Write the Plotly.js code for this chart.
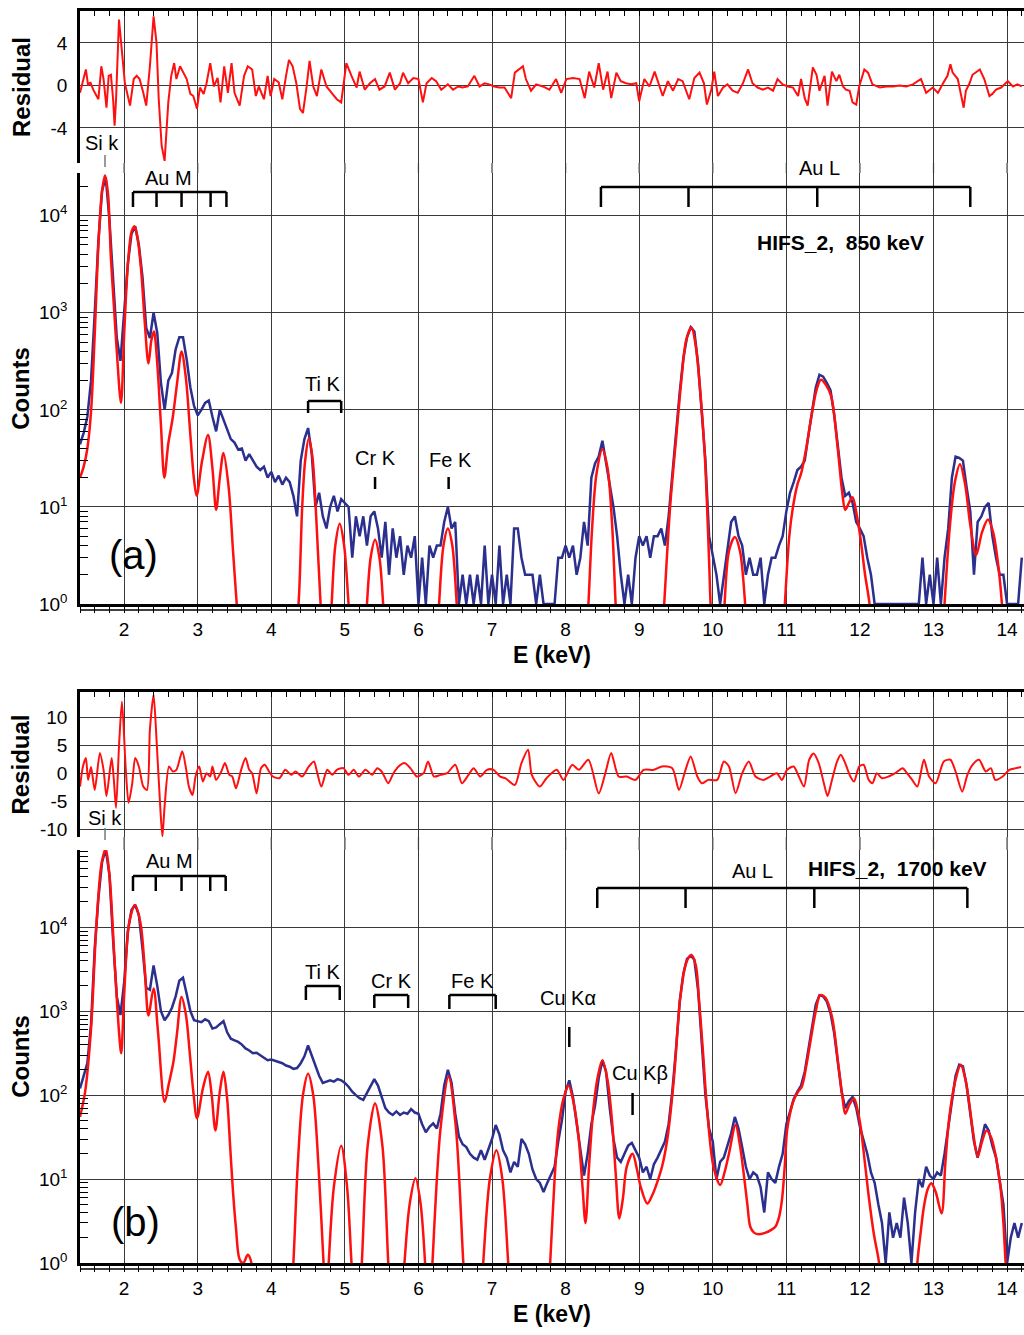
<!DOCTYPE html>
<html><head><meta charset="utf-8">
<script src="https://cdn.plot.ly/plotly-3.0.1.min.js"></script>
<style>html,body{margin:0;padding:0;background:#fff}#chart{width:1024px;height:1335px}</style>
</head><body><div id="chart"></div>
<script>
// ---------- DATA ----------
// energy grid of the measured spectra (keV)
const energyGrid = [
1.4,1.45,1.5,1.55,1.6,1.65,1.7,1.75,1.8,1.85,1.9,1.95,2,2.05,2.1,2.15,2.2,2.25,2.3,2.35,
2.4,2.45,2.5,2.55,2.6,2.65,2.7,2.75,2.8,2.85,2.9,2.95,3,3.05,3.1,3.15,3.2,3.25,3.3,3.35,
3.4,3.45,3.5,3.55,3.6,3.65,3.7,3.75,3.8,3.85,3.9,3.95,4,4.05,4.1,4.15,4.2,4.25,4.3,4.35,
4.4,4.45,4.5,4.55,4.6,4.65,4.7,4.75,4.8,4.85,4.9,4.95,5,5.05,5.1,5.15,5.2,5.25,5.3,5.35,
5.4,5.45,5.5,5.55,5.6,5.65,5.7,5.75,5.8,5.85,5.9,5.95,6,6.05,6.1,6.15,6.2,6.25,6.3,6.35,
6.4,6.45,6.5,6.55,6.6,6.65,6.7,6.75,6.8,6.85,6.9,6.95,7,7.05,7.1,7.15,7.2,7.25,7.3,7.35,
7.4,7.45,7.5,7.55,7.6,7.65,7.7,7.75,7.8,7.85,7.9,7.95,8,8.05,8.1,8.15,8.2,8.25,8.3,8.35,
8.4,8.45,8.5,8.55,8.6,8.65,8.7,8.75,8.8,8.85,8.9,8.95,9,9.05,9.1,9.15,9.2,9.25,9.3,9.35,
9.4,9.45,9.5,9.55,9.6,9.65,9.7,9.75,9.8,9.85,9.9,9.95,10,10.05,10.1,10.15,10.2,10.25,10.3,10.35,
10.4,10.45,10.5,10.55,10.6,10.65,10.7,10.75,10.8,10.85,10.9,10.95,11,11.05,11.1,11.15,11.2,11.25,11.3,11.35,
11.4,11.45,11.5,11.55,11.6,11.65,11.7,11.75,11.8,11.85,11.9,11.95,12,12.05,12.1,12.15,12.2,12.25,12.3,12.35,
12.4,12.45,12.5,12.55,12.6,12.65,12.7,12.75,12.8,12.85,12.9,12.95,13,13.05,13.1,13.15,13.2,13.25,13.3,13.35,
13.4,13.45,13.5,13.55,13.6,13.65,13.7,13.75,13.8,13.85,13.9,13.95,14,14.05,14.1,14.15,14.2];

// measured counts, panel (a) 850 keV
const countsA = [
44,58,85,200,1000,5500,18000,25000,9000,2000,550,320,1000,3200,6500,7800,5000,2300,700,550,
1000,620,190,100,200,240,420,560,560,330,170,110,88,100,118,125,85,60,100,80,
65,50,46,39,40,30,35,30,26,24,26,20,23,18,21,17,20,18,13,8,
30,50,65,35,10,14,8,6,10,13,9,12,11,10,3,8,5,8,4,8,
9,6,3,7,2,6,3,5,2,4,3,5,1,3,1,4,3,4,4,7,
10,6,7,1,2,1,2,1,2,1,4,1,2,1,4,1,2,1,6,6,
3,2,2,2,1,2,1,1,1,1,3,3,4,3,4,2,3,7,4,20,
28,33,48,28,16,10,5,2,1,2,1,3,5,4,5,3,5,5,6,4,
8,22,55,150,340,560,710,640,300,100,30,5,3,2,1,2,4,7,8,5,
4,2,3,2,2,3,1,2,3,3,4,5,9,14,18,24,26,30,55,100,
170,230,220,190,160,90,45,20,13,14,11,7,6,5,3,2,1,1,1,1,
1,1,1,1,1,1,1,1,1,3,1,2,1,3,1,3,6,20,33,32,
30,16,9,2,7,8,10,11,5,3,2,2,1,1,1,1,3];

// measured counts, panel (b) 1700 keV
const countsB = [
120,170,240,700,5600,22000,60000,85000,42000,7000,1500,900,2200,9000,16000,18500,14000,5500,1900,1800,
3500,2000,1000,780,900,1100,1500,2300,2500,1600,1000,780,760,740,800,760,620,640,700,760,
560,470,450,430,400,360,340,315,320,300,280,260,265,255,245,240,225,218,205,210,
240,290,390,300,220,170,140,145,150,145,155,150,140,126,110,100,92,88,105,130,
155,130,95,70,62,58,64,58,62,60,68,62,60,45,36,42,46,40,60,130,
200,140,60,32,26,24,20,18,17,22,17,23,30,44,34,22,18,12,16,14,
30,26,20,13,10,9,7,9,11,14,28,50,110,150,95,46,20,11,20,45,
75,160,260,190,70,30,18,16,20,25,27,22,18,12,14,10,15,18,22,28,
45,110,350,1300,2800,4200,4600,4100,1800,450,100,40,28,10,16,18,26,35,55,40,
24,14,10,12,11,8,4,12,10,9,14,20,45,65,90,110,130,190,350,700,
1200,1550,1500,1300,950,550,240,110,70,85,95,70,42,28,20,12,9,5,3,1,
4,2,3,2,6,3,1,4,10,8,14,11,10,12,11,20,40,90,170,230,
220,130,60,28,18,30,45,38,25,18,10,5,1,2,3,2,3];

// fitted spectrum, panel (a)
const fitE_A = [1.40,1.45,1.50,1.55,1.60,1.65,1.70,1.74,1.78,1.82,1.86,1.90,1.957,2.00,2.05,2.10,2.14,2.18,2.23,2.28,
2.33,2.37,2.405,2.45,2.50,2.546,2.60,2.66,2.72,2.78,2.84,2.90,2.95,2.985,3.06,3.14,3.20,3.25,3.30,3.35,
3.42,3.48,3.53,3.58,
4.30,4.37,4.42,4.46,4.51,4.56,4.61,4.67,4.72,
4.78,4.82,4.87,4.93,4.99,5.05,5.10,
5.26,5.30,5.35,5.41,5.47,5.52,5.56,
6.24,6.28,6.34,6.40,6.46,6.52,6.56,
8.27,8.31,8.36,8.42,8.50,8.57,8.63,8.68,8.72,
9.30,9.34,9.42,9.50,9.57,9.64,9.71,9.77,9.82,9.89,9.95,9.97,10.01,
10.12,10.16,10.22,10.30,10.37,10.44,10.48,
10.94,10.98,11.04,11.09,11.15,11.20,11.27,11.34,11.41,11.47,11.54,11.61,11.70,11.76,11.80,11.85,11.90,11.96,12.01,12.07,12.13,12.17,
13.11,13.15,13.22,13.29,13.36,13.43,13.50,13.58,13.66,13.74,13.81,13.88,13.93,13.97,14.2];
const fitC_A = [20,26,40,96,600,5000,18000,26000,17000,3700,1200,400,118,600,3100,6800,7800,6000,2800,800,
300,520,640,300,70,20,45,83,190,400,210,55,19,13,30,55,25,9.3,20,36,
16,3.5,1,0.3,
0.3,1,10,30,51,32,8,1,0.3,
0.3,1,4,6.7,4,1,0.3,
0.3,1,3,4.6,3,1,0.3,
0.3,1,4,6,4,1,0.3,
0.3,1,6,22,39,25,7,1,0.3,
0.3,1,10,49,190,530,710,450,190,36,2.8,1,0.3,
0.3,1,3.5,4.9,3.5,1,0.3,
0.3,1,5,10,17,22,40,85,160,204,180,137,39,14,9.3,11,12.6,8,4.6,2,1,0.3,
0.3,1,6,18,27.6,17,6.5,3.2,5.5,7.4,5.5,2.5,1,0.3,0.3];

// fitted spectrum, panel (b)
const fitE_B = [1.40,1.47,1.55,1.62,1.69,1.746,1.80,1.87,1.93,1.96,2.00,2.07,2.145,2.22,2.28,2.33,2.40,2.46,2.55,2.61,
2.67,2.72,2.78,2.84,2.89,2.94,2.99,3.07,3.14,3.19,3.24,3.30,3.35,3.40,3.44,3.48,3.52,3.57,3.62,3.68,3.73,3.77,
4.26,4.30,4.36,4.43,4.50,4.57,4.64,4.71,4.745,
4.78,4.85,4.95,5.03,5.09,5.13,
5.19,5.23,5.31,5.41,5.51,5.59,5.63,
5.77,5.81,5.88,5.96,6.03,6.09,6.12,
6.16,6.19,6.30,6.41,6.51,6.61,6.65,
6.84,6.88,6.97,7.06,7.14,7.22,7.26,
7.75,7.79,7.85,7.90,7.97,8.04,8.11,8.18,8.23,8.27,8.32,8.38,8.44,8.50,8.57,8.63,8.68,8.73,8.78,8.83,
8.91,8.97,9.02,9.11,9.18,9.24,9.31,9.38,9.47,9.56,9.64,9.71,9.77,9.81,9.87,9.92,10.01,10.10,10.16,10.22,
10.31,10.37,10.42,10.47,10.51,10.56,10.62,10.72,10.80,10.85,10.90,10.94,10.98,11.01,11.05,11.10,11.16,11.21,11.27,11.33,
11.40,11.46,11.53,11.62,11.71,11.76,11.80,11.86,11.92,11.97,12.01,12.07,12.12,12.19,12.26,12.30,
12.74,12.78,12.83,12.87,12.92,12.97,13.03,13.11,13.16,13.21,13.29,13.37,13.43,13.48,13.54,13.60,13.66,13.72,13.78,13.84,
13.91,13.95,13.98,14.02,14.2];
const fitC_B = [55,110,620,9600,55000,85000,42000,3900,570,315,1550,11500,18300,11500,3200,890,1860,570,83,140,
250,560,1480,900,330,110,53,120,190,100,38,110,190,90,25,7,2.6,1.1,1.0,1.25,1.0,0.3,
0.3,1,15,100,180,100,15,1,0.3,
1,8,25,8,1,0.3,
0.3,1,25,80,25,1,0.3,
0.3,1,5,10.2,5,1,0.3,
0.3,1,40,165,40,1,0.3,
0.3,1,10,22,10,1,0.3,
0.3,1,10,38,90,130,80,29,8,3,15,73,170,260,150,50,12,3.4,6,14,
20,13,8.1,5.1,6.5,8.9,14,29,150,1480,3800,4660,3500,1480,300,73,14,8.5,12,20,
44,25,11.7,5,2.7,2.3,2.2,2.3,2.5,2.7,3.5,5.6,15,38,60,87,110,126,220,450,
1000,1550,1450,860,218,100,60,78,91,65,42,15,6.2,2.2,1,0.3,
0.3,1,2.5,4.7,7.5,8.9,7,3.9,15,50,140,230,160,87,35,18.5,28,38,32,20,
8,3,1,0.3,0.3];

// residuals, panel (a)
const resE_A = [1.40,1.44,1.48,1.51,1.54,1.58,1.65,1.69,1.72,1.76,1.79,1.82,1.85,1.87,1.89,1.93,1.96,2.01,2.08,2.13,
2.17,2.21,2.26,2.30,2.35,2.40,2.44,2.47,2.51,2.55,2.60,2.64,2.68,2.71,2.76,2.80,2.85,2.90,2.94,2.99,
3.03,3.08,3.12,3.17,3.22,3.27,3.31,3.36,3.41,3.46,3.50,3.57,3.63,3.68,3.74,3.79,3.83,3.90,3.95,3.99,
4.04,4.10,4.15,4.20,4.24,4.29,4.34,4.39,4.43,4.48,4.52,4.57,4.62,4.68,4.75,4.82,4.89,4.95,5.02,5.09,
5.16,5.20,5.27,5.34,5.41,5.47,5.54,5.61,5.68,5.75,5.79,5.86,5.93,6.00,6.06,6.11,6.18,6.24,6.31,6.40,
6.47,6.54,6.60,6.67,6.76,6.83,6.90,6.96,7.03,7.10,7.17,7.26,7.31,7.42,7.46,7.53,7.60,7.69,7.78,7.87,
7.94,8.01,8.10,8.19,8.26,8.32,8.39,8.45,8.51,8.57,8.62,8.69,8.75,8.82,8.89,8.96,9.00,9.07,9.14,9.21,
9.28,9.32,9.39,9.46,9.53,9.59,9.68,9.75,9.82,9.88,9.92,9.98,10.02,10.07,10.14,10.20,10.27,10.34,10.41,10.48,
10.54,10.61,10.68,10.75,10.82,10.88,10.95,11.02,11.09,11.16,11.20,11.25,11.29,11.36,11.41,11.45,11.52,11.56,11.62,11.68,
11.72,11.77,11.81,11.86,11.90,11.95,11.99,12.06,12.11,12.17,12.27,12.36,12.45,12.54,12.63,12.72,12.83,12.90,12.99,13.06,
13.13,13.19,13.23,13.26,13.33,13.37,13.41,13.44,13.49,13.53,13.59,13.63,13.69,13.76,13.80,13.85,13.92,13.96,14.01,14.08,
14.14,14.20];
const res_A = [-0.7,0.5,1.5,0,0.3,-0.4,-1.3,1.8,0.6,-2.1,0.9,1.0,-1.3,-3.8,-1.3,6.2,4.0,0.2,-1.9,0.6,
0.9,0.6,-0.7,-1.9,1.8,6.5,4.0,-1.3,-5.7,-7.1,-1.6,0.9,2.1,0.6,1.8,1.2,0.6,-0.8,-1.0,-2.2,
-0.2,-0.8,0.2,2.1,-0.1,0.7,-1.6,1.8,-0.7,2.1,-0.7,-1.9,0.9,1.8,1.5,-1.0,-0.1,-1.3,0.9,-1.0,
0.6,0.3,-1.3,0.9,2.4,1.8,0.2,-2.2,-2.6,-0.1,2.3,-0.1,-1.0,1.5,-0.1,-0.7,-1.3,-1.6,2.1,0.9,
-0.2,1.3,-0.4,0.2,0.6,-0.4,-0.1,1.2,-0.4,0.2,1.2,0.2,0.7,0.6,-1.6,0.2,0.7,0.4,-0.4,0.1,
-0.4,-0.1,-0.2,-0.1,0.9,-0.1,0.2,0.1,-0.1,-0.2,-0.2,-1.2,1.2,1.8,0.6,-0.5,0.1,-0.1,-0.4,0.6,
-0.7,0.6,0.7,0.6,-1.2,1.3,-0.2,2.1,-0.4,1.3,-1.2,1.2,0.4,0.2,0.1,0.2,-1.5,0.6,-0.1,1.3,
-0.2,-1.0,0.4,-0.5,0.6,0.4,-1.3,0.7,1.2,0.2,-1.8,-0.4,1.3,-1.0,-0.2,0.1,-0.5,-0.7,0.2,1.5,
0.2,-0.2,-0.4,-0.2,-0.5,0.6,0.1,-0.1,-0.2,-1.0,0.6,-1.2,-1.9,1.7,1.0,-0.5,0.9,-1.9,1.3,0.4,
1.0,-0.1,-0.4,-0.5,-1.6,-1.8,-0.1,1.5,1.2,0.1,-0.2,-0.1,-0.1,0,-0.1,0.1,0.6,-0.7,-0.2,-0.7,
0.2,0.9,2.0,1.2,0.6,-0.7,-2.1,-0.5,0.2,1.0,1.3,1.5,0.6,-1.0,-0.8,-0.4,-0.2,0.1,0.4,-0.1,
0.1,-0.1];

// residuals, panel (b)
const resE_B = [1.40,1.44,1.48,1.51,1.55,1.60,1.67,1.72,1.76,1.83,1.86,1.89,1.93,1.97,2.02,2.06,2.11,2.15,2.20,2.26,
2.31,2.35,2.40,2.44,2.49,2.52,2.55,2.61,2.66,2.71,2.79,2.84,2.88,2.93,2.97,3.02,3.07,3.12,3.17,3.20,
3.25,3.32,3.37,3.43,3.47,3.52,3.59,3.65,3.70,3.74,3.80,3.86,3.91,3.97,4.02,4.11,4.19,4.27,4.33,4.42,
4.51,4.58,4.62,4.68,4.76,4.83,4.89,4.98,5.05,5.12,5.19,5.28,5.37,5.44,5.50,5.59,5.66,5.73,5.81,5.89,
5.98,6.07,6.13,6.21,6.30,6.39,6.50,6.59,6.68,6.75,6.84,6.93,7.02,7.11,7.18,7.31,7.40,7.49,7.54,7.65,
7.74,7.88,7.97,8.09,8.18,8.31,8.45,8.54,8.62,8.72,8.83,8.95,9.06,9.20,9.31,9.45,9.54,9.63,9.70,9.79,
9.85,9.94,10.06,10.15,10.22,10.31,10.40,10.49,10.58,10.69,10.78,10.87,10.94,11.01,11.10,11.17,11.24,11.31,11.37,11.44,
11.51,11.56,11.62,11.69,11.74,11.80,11.87,11.92,11.99,12.05,12.12,12.17,12.23,12.30,12.39,12.48,12.58,12.64,12.71,12.78,
12.87,12.94,13.03,13.14,13.23,13.30,13.39,13.46,13.53,13.62,13.71,13.78,13.84,13.94,14.03,14.12,14.19];
const res_B = [-2.3,1.3,2.8,-1.1,1.2,-2.9,3.7,0.7,-4.0,2.8,-1.1,-6.1,4.9,12.9,1.3,-5.2,-1.7,2.8,1.3,-2.3,
-2.9,7.9,14.1,6.1,-5.8,-11.2,-5.8,1.3,0.4,0.7,4.0,1.0,-2.3,-3.8,-0.5,1.3,-1.4,0.1,-0.5,1.3,
-1.1,0.4,1.9,-0.2,-0.5,-2.6,0.7,2.8,0.7,0.1,-3.5,1.0,1.6,0.4,-0.5,-0.8,0.7,-0.2,0.4,-0.5,
1.3,2.2,0.4,-2.3,0.7,-0.2,0.7,1.0,-0.2,0.7,-0.5,0.7,-0.2,1.0,0.4,-1.7,0.1,1.3,1.9,1.0,
-0.5,0.1,2.2,-0.5,-0.2,0.1,1.6,-1.7,-0.2,1.0,-0.5,0.7,0.7,-0.5,-0.8,-2.0,1.9,4.3,-0.2,-2.3,
-0.8,0.7,-1.1,1.6,0.7,2.5,-3.5,0.1,3.7,-0.5,-0.5,-1.1,0.7,0.7,1.3,1.0,-2.9,0.7,3.1,-0.5,
-1.7,-1.1,-1.1,2.2,1.3,-3.5,0.1,2.2,-0.5,-1.1,-0.5,0.1,-1.1,0.7,1.3,-0.5,-2.3,2.5,3.6,1.9,
-1.7,-4.0,-1.1,2.2,3.4,1.9,-0.5,-1.4,1.3,1.6,-1.1,-1.7,0.1,-0.8,-0.5,0.1,1.0,0.1,-1.1,-2.3,
2.5,-0.5,-1.7,2.2,2.5,0.4,-3.2,-0.2,1.6,2.5,0.4,1.0,-1.1,-0.5,0.7,1.0,1.2];

// axis ticks
const xMajorTicks = [2,3,4,5,6,7,8,9,10,11,12,13,14];
const countTickVals = [1,10,100,1000,10000];
const countTickText = ['10<sup>0</sup>','10<sup>1</sup>','10<sup>2</sup>','10<sup>3</sup>','10<sup>4</sup>'];
const resTicksA = [-4,0,4];
const resTickTextA = ['-4','0','4'];
const resTicksB = [-10,-5,0,5,10];
const resTickTextB = ['-10','-5','0','5','10'];

// characteristic X-ray line markers (keV)
const siK = [1.74];
const auM_A = [2.12,2.44,2.78,3.175,3.39];
const auL_A = [8.48,9.67,11.42,13.50];
const tiK_A = [4.50,4.95];
const crK_A = [5.41];
const feK_A = [6.41];
const auM_B = [2.12,2.43,2.78,3.17,3.38];
const auL_B = [8.43,9.63,11.38,13.46];
const tiK_B = [4.47,4.93];
const crK_B = [5.40,5.86];
const feK_B = [6.42,7.05];
const cuKa = [8.05];
const cuKb = [8.91];

// ---------- CHART ----------
const FONT = 'Liberation Sans, Arial, sans-serif';
const H = 1335;
const py = p => 1 - p / H;
const xRange = [1.4, 14.23];
const gridC = '#3a3a3a';
const RED = '#ff1010', BLUE = '#2b2f8e';

const minorLog = [];
for (let n = 0; n < 5; n++) for (let d = 2; d <= 9; d++) minorLog.push(d * Math.pow(10, n));

function resX(anchor) {
  return {anchor, domain:[0,1], range:xRange, side:'top', showticklabels:false,
    tickmode:'linear', tick0:0, dtick:1, ticks:'inside', ticklen:5, tickwidth:1.2, tickcolor:'#000',
    showgrid:true, gridcolor:gridC, gridwidth:1.2, showline:true, linecolor:'#000', linewidth:3, zeroline:false,
    minor:{tickmode:'linear', tick0:0, dtick:0.2, ticks:'inside', ticklen:5, tickwidth:1.2, tickcolor:'#000', showgrid:false}};
}
function cntX(anchor) {
  return {anchor, domain:[0,1], range:xRange, tickmode:'linear', tick0:0, dtick:1,
    ticks:'outside', ticklen:6, tickwidth:1.4, tickcolor:'#000',
    showgrid:true, gridcolor:gridC, gridwidth:1.2, showline:true, linecolor:'#000', linewidth:3, zeroline:false,
    tickfont:{family:FONT, size:19, color:'#000'},
    title:{text:'E (keV)', font:{family:FONT, size:23, color:'#000', weight:'bold'}, standoff:9},
    minor:{tickmode:'linear', tick0:0, dtick:0.2, ticks:'outside', ticklen:6, tickwidth:1.2, tickcolor:'#000', showgrid:false}};
}
function resY(anchor, dom, range, vals, txt, standoff) {
  return {anchor, domain:dom, range, tickmode:'array', tickvals:vals, ticktext:txt, ticks:'',
    showgrid:true, gridcolor:gridC, gridwidth:1.2, zeroline:false,
    showline:true, linecolor:'#000', linewidth:2.5, ticklabelstandoff:6,
    tickfont:{family:FONT, size:19, color:'#000'},
    title:{text:'Residual', font:{family:FONT, size:24, color:'#000', weight:'bold'}, standoff}};
}
function cntY(anchor, dom, range) {
  return {anchor, domain:dom, type:'log', range, tickmode:'array', tickvals:countTickVals, ticktext:countTickText,
    ticks:'', showgrid:true, gridcolor:gridC, gridwidth:1.2, zeroline:false,
    showline:true, linecolor:'#000', linewidth:2.5, ticklabelstandoff:6,
    tickfont:{family:FONT, size:19, color:'#000'},
    title:{text:'Counts', font:{family:FONT, size:24, color:'#000', weight:'bold'}, standoff:3},
    minor:{tickmode:'array', tickvals:minorLog, ticks:'inside', ticklen:8, tickwidth:1.2, tickcolor:'#000', showgrid:false}};
}

const traces = [
  {x:resE_A, y:res_A, xaxis:'x', yaxis:'y', mode:'lines', line:{color:RED, width:2}, name:'residual (a)'},
  {x:energyGrid, y:countsA, xaxis:'x2', yaxis:'y2', mode:'lines', line:{color:BLUE, width:2.5}, name:'data (a)'},
  {x:fitE_A, y:fitC_A, xaxis:'x2', yaxis:'y2', mode:'lines', line:{color:RED, width:2.5, shape:'spline', smoothing:0.9}, name:'fit (a)'},
  {x:resE_B, y:res_B, xaxis:'x3', yaxis:'y3', mode:'lines', line:{color:RED, width:2, shape:'spline', smoothing:0.7}, name:'residual (b)'},
  {x:energyGrid, y:countsB, xaxis:'x4', yaxis:'y4', mode:'lines', line:{color:BLUE, width:2.5}, name:'data (b)'},
  {x:fitE_B, y:fitC_B, xaxis:'x4', yaxis:'y4', mode:'lines', line:{color:RED, width:2.5, shape:'spline', smoothing:0.9}, name:'fit (b)'}
];

const shapes = [];
const annotations = [];
function vline(xref, x, y0, y1, w, c) {
  shapes.push({type:'line', xref, yref:'paper', x0:x, x1:x, y0:py(y0), y1:py(y1), line:{color:c||'#000', width:w||2.5}});
}
function bracket(xref, xs, top, bot) {
  shapes.push({type:'line', xref, yref:'paper', x0:Math.min(...xs), x1:Math.max(...xs), y0:py(top), y1:py(top), line:{color:'#000', width:2.5}});
  xs.forEach(x => vline(xref, x, top, bot));
}
function label(xref, x, y, text, size, bold) {
  annotations.push({xref, yref:'paper', x, y:py(y), text, showarrow:false, xanchor:'center', yanchor:'middle',
    font:{family:FONT, size:size||20, color:'#000', weight:bold?'bold':'normal'}});
}

// gridlines through the gaps between residual and counts panels
xMajorTicks.forEach(e => { vline('x', e, 163, 173, 1.2, gridC); vline('x3', e, 837, 850, 1.2, gridC); });
// double bottom rule
shapes.push({type:'line', xref:'paper', yref:'paper', x0:0, x1:1, y0:py(610), y1:py(610), line:{color:'#000', width:1.5}});
shapes.push({type:'line', xref:'paper', yref:'paper', x0:0, x1:1, y0:py(1269), y1:py(1269), line:{color:'#000', width:1.5}});

// panel (a) markers
vline('x2', siK[0], 155, 167, 1.5, '#777');
bracket('x2', auM_A, 192, 207);
bracket('x2', auL_A, 187, 207);
bracket('x2', tiK_A, 401, 413);
vline('x2', crK_A[0], 477, 489);
vline('x2', feK_A[0], 477, 489);
label('x2', 1.70, 143, 'Si k');
label('x2', 2.60, 178, 'Au M');
label('x2', 11.45, 168, 'Au L');
label('x2', 11.74, 243, 'HIFS_2,  850 keV', 21, true);
label('x2', 4.69, 384, 'Ti K');
label('x2', 5.41, 458, 'Cr K');
label('x2', 6.43, 460, 'Fe K');
label('x2', 2.13, 555, '(a)', 40);

// panel (b) markers
vline('x4', siK[0], 828, 840, 1.5, '#777');
bracket('x4', auM_B, 876, 891);
bracket('x4', auL_B, 888, 908);
bracket('x4', tiK_B, 986, 1000);
bracket('x4', crK_B, 995, 1008);
bracket('x4', feK_B, 995, 1009);
vline('x4', cuKa[0], 1027, 1047);
vline('x4', cuKb[0], 1093, 1115);
label('x4', 1.74, 818, 'Si k');
label('x4', 2.62, 861, 'Au M');
label('x4', 10.54, 871, 'Au L');
label('x4', 12.51, 868, 'HIFS_2,  1700 keV', 21, true);
label('x4', 4.69, 972, 'Ti K');
label('x4', 5.64, 981, 'Cr K');
label('x4', 6.73, 981, 'Fe K');
label('x4', 8.03, 998, 'Cu K\u03b1');
label('x4', 9.01, 1073, 'Cu K\u03b2');
label('x4', 2.15, 1222, '(b)', 40);

const layout = {
  width:1024, height:1335, margin:{l:80, r:0, t:0, b:0},
  paper_bgcolor:'#fff', plot_bgcolor:'#fff', showlegend:false,
  font:{family:FONT, size:19, color:'#000'},
  xaxis: resX('y'),
  yaxis: resY('x', [py(163), py(11)], [-7.3, 7.0], resTicksA, resTickTextA, 14),
  xaxis2: cntX('y2'),
  yaxis2: cntY('x2', [py(604), py(173)], [0, 4.44]),
  xaxis3: resX('y3'),
  yaxis3: resY('x3', [py(837), py(692)], [-11.3, 14.6], resTicksB, resTickTextB, 4),
  xaxis4: cntX('y4'),
  yaxis4: cntY('x4', [py(1263), py(850)], [0, 4.92]),
  shapes, annotations
};

Plotly.newPlot('chart', traces, layout, {displayModeBar:false});
</script>
</body></html>
